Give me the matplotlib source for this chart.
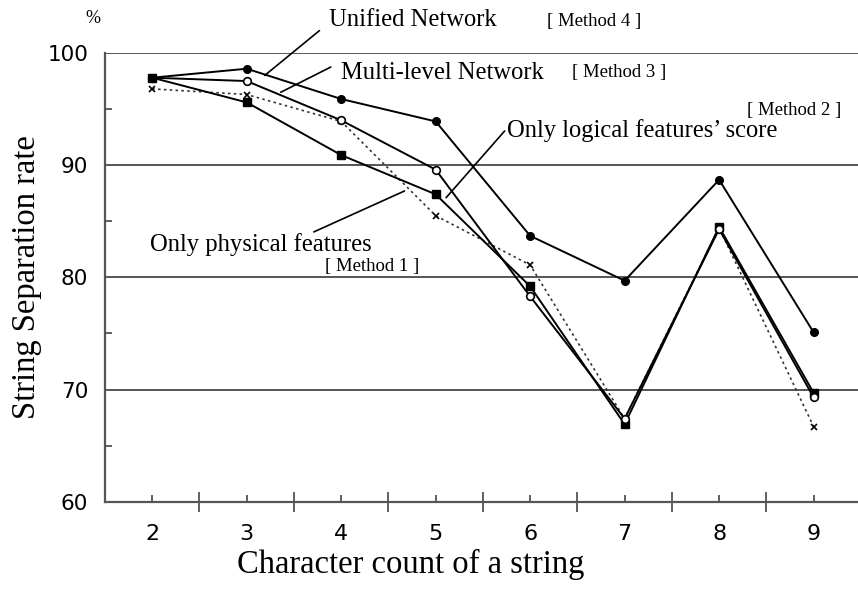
import matplotlib.pyplot as plt
from matplotlib.ticker import MultipleLocator

# character count of a string
counts = [2, 3, 4, 5, 6, 7, 8, 9]

# string separation rate (%)
method1 = [97.8, 95.6, 90.9, 87.4, 79.2, 66.9, 84.5, 69.7]   # only physical features
method2 = [96.8, 96.3, 93.9, 85.5, 81.1, 67.4, 84.4, 66.7]   # only logical features' score
method3 = [97.8, 97.5, 94.0, 89.6, 78.3, 67.4, 84.3, 69.3]   # multi-level network
method4 = [97.8, 98.6, 95.9, 93.9, 83.7, 79.7, 88.7, 75.1]   # unified network

serif = 'Liberation Serif'

fig = plt.figure(figsize=(8.58, 5.93), dpi=100)
ax = fig.add_axes([0.1224, 0.154, 0.8776, 0.7566])

# horizontal grid lines
for v in [70, 80, 90, 100]:
    ax.axhline(v, color='#555555', lw=1.4, zorder=1)

ax.plot(counts, method2, color='#333333', lw=1.2, ls=(0, (1.5, 2)),
        marker='x', ms=5, mew=1.2, mec='black', zorder=3)
ax.plot(counts, method1, color='black', lw=1.4, marker='s', ms=5.5,
        mfc='black', mec='black', zorder=4)
ax.plot(counts, method3, color='black', lw=1.4, marker='o', ms=5.5,
        mfc='white', mec='black', mew=1.2, zorder=5)
ax.plot(counts, method4, color='black', lw=1.4, marker='o', ms=5.5,
        mfc='black', mec='black', zorder=6)

ax.set_xlim(1.5, 9.47)
ax.set_ylim(60, 100)

for s in ['top', 'right']:
    ax.spines[s].set_visible(False)
for s in ['left', 'bottom']:
    ax.spines[s].set_color('#555555')
    ax.spines[s].set_linewidth(1.6)

# x: labels at categories (short ticks), long ticks between categories
ax.set_xticks([2.5, 3.5, 4.5, 5.5, 6.5, 7.5, 8.5])
ax.set_xticklabels([])
ax.tick_params(axis='x', which='major', direction='inout', length=14,
               width=1.2, color='#444444')
ax.set_xticks(counts, minor=True)
ax.set_xticklabels([str(c) for c in counts], minor=True)
ax.tick_params(axis='x', which='minor', direction='in', length=5, width=1.2,
               color='#444444', labelsize=16, pad=16)

ax.set_yticks([60, 70, 80, 90, 100])
ax.yaxis.set_minor_locator(MultipleLocator(5))
ax.tick_params(axis='y', which='major', length=0, labelsize=15.5, pad=12)
ax.tick_params(axis='y', which='minor', direction='in', length=5, width=1.2,
               color='#444444')

ax.set_xlabel('Character count of a string', fontsize=23.5, family=serif)
ax.xaxis.set_label_coords((411 - 105) / 753, -0.105)
ax.set_ylabel('String Separation rate', fontsize=23.5, family=serif,
              labelpad=4)
fig.text(0.108, 0.968, '%', fontsize=13, family=serif, ha='center',
         va='center')

line = dict(arrowstyle='-', color='black', lw=1.2, shrinkA=0, shrinkB=0)
big = 17.7
small = 13.5

ax.text(3.87, 102.9, 'Unified Network', fontsize=big, family=serif,
        va='center', clip_on=False)
ax.text(6.18, 102.8, '[ Method 4 ]', fontsize=small, family=serif,
        va='center', clip_on=False)
ax.annotate('', xy=(3.19, 98.0), xytext=(3.77, 102.0), arrowprops=line,
            annotation_clip=False)

ax.text(4.0, 98.2, 'Multi-level Network', fontsize=big, family=serif,
        va='center')
ax.text(6.44, 98.3, '[ Method 3 ]', fontsize=small, family=serif,
        va='center')
ax.annotate('', xy=(3.36, 96.5), xytext=(3.89, 98.75), arrowprops=line)

ax.text(8.29, 94.9, '[ Method 2 ]', fontsize=small, family=serif,
        va='center')
ax.text(5.75, 93.1, 'Only logical features\u2019 score', fontsize=big,
        family=serif, va='center')
ax.annotate('', xy=(5.11, 87.1), xytext=(5.73, 93.05), arrowprops=line)

ax.text(1.98, 82.9, 'Only physical features', fontsize=big, family=serif,
        va='center')
ax.text(3.83, 80.95, '[ Method 1 ]', fontsize=small, family=serif,
        va='center')
ax.annotate('', xy=(4.67, 87.7), xytext=(3.71, 84.05), arrowprops=line)

fig.savefig('out.png', dpi=100)
